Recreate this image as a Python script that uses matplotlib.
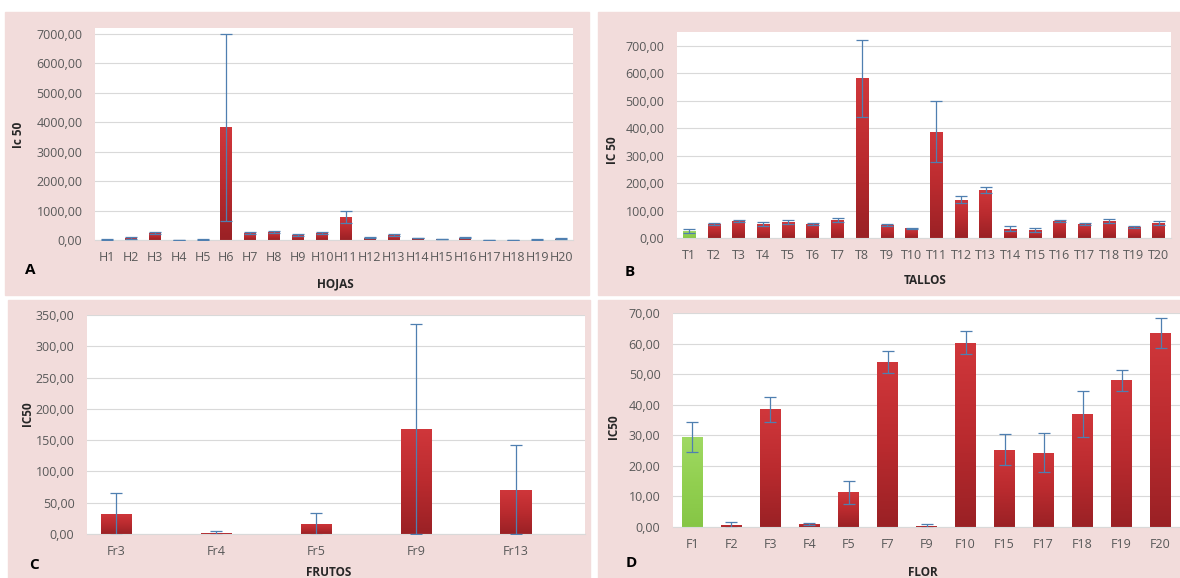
import numpy as np
import matplotlib
matplotlib.use("Agg")
import matplotlib.pyplot as plt
from matplotlib.patches import Rectangle
from matplotlib.colors import LinearSegmentedColormap
from matplotlib.ticker import FuncFormatter

plt.rcParams['font.family'] = ['Open Sans', 'DejaVu Sans']

# data
hojas_labels = ["H%d" % i for i in range(1, 21)]
hojas_vals = [10, 60, 250, 10, 15, 3830, 230, 280, 160, 240, 780, 80, 160, 70, 30, 80, 10, 10, 15, 50]
hojas_err = [8, 25, 30, 5, 5, 3170, 40, 30, 40, 30, 190, 10, 30, 10, 10, 10, 5, 5, 5, 10]

tallos_labels = ["T%d" % i for i in range(1, 21)]
tallos_vals = [25, 50, 62, 50, 58, 52, 66, 582, 46, 35, 388, 140, 175, 34, 30, 62, 52, 63, 40, 55]
tallos_err = [8, 4, 3, 8, 8, 3, 8, 140, 4, 3, 110, 12, 12, 8, 8, 3, 3, 8, 3, 8]

frutos_labels = ["Fr3", "Fr4", "Fr5", "Fr9", "Fr13"]
frutos_vals = [32, 1, 16, 168, 71]
frutos_err = [33, 3, 17, 168, 71]

flor_labels = ["F1", "F2", "F3", "F4", "F5", "F7", "F9", "F10", "F15", "F17", "F18", "F19", "F20"]
flor_vals = [29.5, 0.7, 38.5, 1.0, 11.3, 54.0, 0.4, 60.3, 25.3, 24.3, 37.0, 48.0, 63.5]
flor_err = [5.0, 1.0, 4.0, 0.3, 3.8, 3.5, 0.6, 3.7, 5.0, 6.3, 7.5, 3.5, 5.0]

W, H = 1180, 578
PINK = "#f2dcdb"
TXT = "#595959"
red_cmap = LinearSegmentedColormap.from_list("r", ["#9a2125", "#bb2b2f", "#d0373b"])
green_cmap = LinearSegmentedColormap.from_list("g", ["#86c646", "#92d050", "#a0d964"])

fig = plt.figure(figsize=(W / 100, H / 100), dpi=100)
fig.patch.set_facecolor("white")


def px(x, y):
    return x / W, 1 - y / H


def add_panel(x0, y0, x1, y1):
    fig.patches.append(Rectangle(px(x0, y1), (x1 - x0) / W, (y1 - y0) / H,
                                 transform=fig.transFigure, color=PINK, zorder=-10))


def make_axes(left, top, right, bottom):
    ax = fig.add_axes([left / W, 1 - bottom / H, (right - left) / W, (bottom - top) / H])
    ax.set_facecolor("white")
    for s in ["top", "right", "left"]:
        ax.spines[s].set_visible(False)
    ax.spines["bottom"].set_color("#d9d9d9")
    ax.yaxis.grid(True, color="#d9d9d9", lw=0.8)
    ax.set_axisbelow(True)
    ax.tick_params(length=0, colors=TXT, labelsize=9)
    ax.tick_params(axis="y", pad=9)
    ax.tick_params(axis="x", pad=8)
    ax.yaxis.set_major_formatter(FuncFormatter(lambda v, p: ("%.2f" % v).replace(".", ",")))
    return ax


def gradient_bars(ax, labels, vals, errs, width, green_first=False):
    x = np.arange(len(vals))
    bars = ax.bar(x, vals, width=width, color="none", zorder=2)
    grad = np.linspace(0, 1, 100).reshape(-1, 1)
    for i, b in enumerate(bars):
        cmap = green_cmap if (green_first and i == 0) else red_cmap
        im = ax.imshow(grad, cmap=cmap, origin="lower", aspect="auto", zorder=2,
                       extent=[b.get_x(), b.get_x() + b.get_width(), 0, b.get_height()])
        im.set_clip_path(b)
    ax.errorbar(x, vals, yerr=errs, fmt="none", ecolor="#4f7fb0", elinewidth=0.9,
                capsize=4, capthick=0.9, zorder=3)
    ax.set_xticks(x)
    ax.set_xticklabels(labels)


# panel backgrounds
add_panel(5, 12, 589, 295)
add_panel(598, 12, 1180, 295)
add_panel(8, 300, 590, 578)
add_panel(598, 300, 1180, 578)

# A - hojas
axA = make_axes(95, 28, 573, 240)
gradient_bars(axA, hojas_labels, hojas_vals, hojas_err, 0.5)
axA.set_xlim(-0.5, 19.5)
axA.set_ylim(0, 7204)
axA.set_yticks(np.arange(0, 7001, 1000))

# B - tallos
axB = make_axes(677, 32, 1171, 238)
gradient_bars(axB, tallos_labels, tallos_vals, tallos_err, 0.52, green_first=True)
axB.set_xlim(-0.5, 19.5)
axB.set_ylim(0, 751)
axB.set_yticks(np.arange(0, 701, 100))

# C - frutos
axC = make_axes(87, 315, 585, 534)
gradient_bars(axC, frutos_labels, frutos_vals, frutos_err, 0.31)
axC.set_xlim(-0.29, 4.69)
axC.set_ylim(0, 350)
axC.set_yticks(np.arange(0, 351, 50))

# D - flor
axD = make_axes(673, 313, 1180, 527)
gradient_bars(axD, flor_labels, flor_vals, flor_err, 0.53, green_first=True)
axD.set_xlim(-0.5, 12.5)
axD.set_ylim(0, 70)
axD.set_yticks(np.arange(0, 71, 10))

# axis titles and panel letters
bold = dict(fontweight="bold", color="#262626", fontsize=8.5)
fig.text(*px(18, 135), "Ic 50", rotation=90, ha="center", va="center", **bold)
fig.text(*px(335, 284), "HOJAS", ha="center", va="center", **bold)
fig.text(*px(612, 150), "IC 50", rotation=90, ha="center", va="center", **bold)
fig.text(*px(925, 280), "TALLOS", ha="center", va="center", **bold)
fig.text(*px(27, 414), "IC50", rotation=90, ha="center", va="center", **bold)
fig.text(*px(329, 573), "FRUTOS", ha="center", va="center", **bold)
fig.text(*px(614, 427), "IC50", rotation=90, ha="center", va="center", **bold)
fig.text(*px(923, 573), "FLOR", ha="center", va="center", **bold)

letter = dict(fontweight="bold", color="black", fontsize=11, ha="center", va="center")
fig.text(*px(30, 270), "A", **letter)
fig.text(*px(630, 272), "B", **letter)
fig.text(*px(34, 565), "C", **letter)
fig.text(*px(631, 563), "D", **letter)

fig.savefig("out.png", dpi=100, facecolor="white")
